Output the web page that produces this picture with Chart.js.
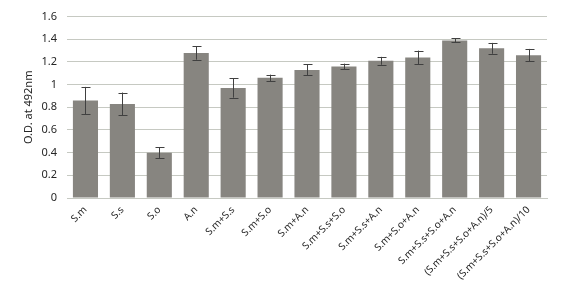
<!DOCTYPE html>
<html>
<head>
<meta charset="utf-8">
<script src="https://cdn.jsdelivr.net/npm/chart.js@4.4.1/dist/chart.umd.min.js"></script>
<style>
  html, body { margin: 0; padding: 0; background: #fff; }
  #wrap { width: 564px; height: 302px; }
</style>
</head>
<body>
<div id="wrap"><canvas id="od-chart"></canvas></div>
<script>
const categories = ['S.m', 'S.s', 'S.o', 'A.n', 'S.m+S.s', 'S.m+S.o', 'S.m+A.n', 'S.m+S.s+S.o',
  'S.m+S.s+A.n', 'S.m+S.o+A.n', 'S.m+S.s+S.o+A.n', '(S.m+S.s+S.o+A.n)/5', '(S.m+S.s+S.o+A.n)/10'];
const odValues = [0.86, 0.83, 0.40, 1.28, 0.97, 1.06, 1.13, 1.16, 1.21, 1.24, 1.39, 1.32, 1.26];
const odErrors = [0.12, 0.10, 0.047, 0.06, 0.085, 0.028, 0.048, 0.025, 0.035, 0.06, 0.017, 0.048, 0.055];
const yTicks = [0, 0.2, 0.4, 0.6, 0.8, 1, 1.2, 1.4, 1.6];

// error bars drawn on top of the bars
const errorBars = {
  id: 'errorBars',
  afterDatasetsDraw(chart) {
    const ctx = chart.ctx;
    const y = chart.scales.y;
    const meta = chart.getDatasetMeta(0);
    ctx.save();
    ctx.strokeStyle = '#404040';
    ctx.lineWidth = 1;
    meta.data.forEach((bar, i) => {
      const x = Math.round(bar.x) + 0.5;
      const top = y.getPixelForValue(odValues[i] + odErrors[i]);
      const bot = y.getPixelForValue(odValues[i] - odErrors[i]);
      ctx.beginPath();
      ctx.moveTo(x, top); ctx.lineTo(x, bot);
      ctx.moveTo(x - 4, Math.round(top) + 0.5); ctx.lineTo(x + 5, Math.round(top) + 0.5);
      ctx.moveTo(x - 4, Math.round(bot) + 0.5); ctx.lineTo(x + 5, Math.round(bot) + 0.5);
      ctx.stroke();
    });
    ctx.restore();
  }
};

new Chart(document.getElementById('od-chart'), {
  type: 'bar',
  data: {
    labels: categories,
    datasets: [{
      data: odValues,
      backgroundColor: '#878580',
      barPercentage: 0.68,
      categoryPercentage: 1
    }]
  },
  options: {
    responsive: true,
    maintainAspectRatio: false,
    animation: false,
    layout: { padding: { top: 13, right: 17, left: 0, bottom: 0 } },
    plugins: {
      legend: { display: false },
      tooltip: { enabled: false }
    },
    scales: {
      x: {
        grid: { display: false, drawTicks: false },
        border: { color: '#c6c9c2' },
        ticks: {
          minRotation: 45, maxRotation: 45, padding: 6,
          color: '#262626', font: { family: 'Noto Sans', size: 10 }
        },
        afterFit(axis) { axis.height = 104; }
      },
      y: {
        min: 0, max: 1.6,
        grid: { color: '#c6c9c2', drawTicks: false },
        border: { display: false },
        afterBuildTicks(axis) { axis.ticks = yTicks.map(v => ({ value: v })); },
        ticks: {
          padding: 10, color: '#262626',
          font: { family: 'Noto Sans', size: 11 },
          callback: v => String(v)
        },
        title: {
          display: true, text: 'O.D. at 492nm', color: '#262626',
          font: { family: 'Noto Sans', size: 11 }, padding: { top: 22, bottom: 0 }
        },
        afterFit(axis) { axis.width = 67; }
      }
    }
  },
  plugins: [errorBars]
});
</script>
</body>
</html>
